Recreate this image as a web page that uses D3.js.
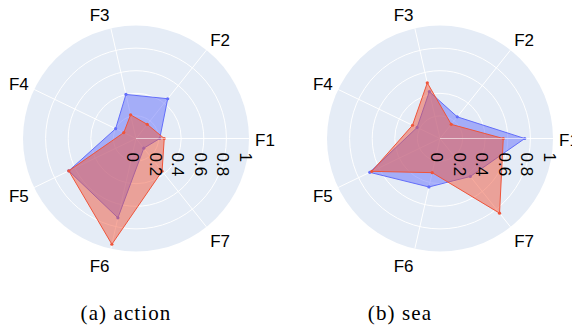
<!DOCTYPE html>
<html>
<head>
<meta charset="utf-8">
<script src="https://cdn.jsdelivr.net/npm/d3@7"></script>
<style>
  html, body { margin: 0; padding: 0; background: #ffffff; }
  svg { display: block; }
</style>
</head>
<body>
<svg id="chart" width="572" height="326"></svg>
<script>
// Feature axes, radial ticks and per-panel series (blue first, red drawn on top)
const categories = ["F1", "F2", "F3", "F4", "F5", "F6", "F7"];
const radialTicks = [0, 0.2, 0.4, 0.6, 0.8, 1];
const radialTickLabels = ["0", "0.2", "0.4", "0.6", "0.8", "1"];

const actionBlue = [0.21, 0.45, 0.40, 0.20, 0.66, 0.72, 0.11];
const actionRed  = [0.25, 0.16, 0.215, 0.12, 0.66, 0.96, 0.37];
const seaBlue    = [0.75, 0.245, 0.425, 0.225, 0.69, 0.44, 0.43];
const seaRed     = [0.56, 0.16, 0.505, 0.27, 0.67, 0.31, 0.845];

const panelCaptions = ["(a) action", "(b) sea"];

const blueColor = "#636efa";
const redColor = "#EF553B";
const bgColor = "#E5ECF6";

const svg = d3.select("#chart");
const R = 113;
const rScale = d3.scaleLinear().domain([0, 1]).range([0, R]);
const step = 2 * Math.PI / categories.length;
// theta measured counter-clockwise from the +x direction
const theta = i => i * step;

const panels = [
  { cx: 136, cy: 138.5, series: [actionBlue, actionRed], caption: panelCaptions[0], capX: 126 },
  { cx: 440, cy: 138.5, series: [seaBlue, seaRed], caption: panelCaptions[1], capX: 400 }
];

const radialLine = d3.lineRadial()
  .angle((d, i) => Math.PI / 2 - theta(i))
  .radius(d => rScale(d))
  .curve(d3.curveLinearClosed);

panels.forEach(p => {
  const g = svg.append("g").attr("transform", `translate(${p.cx},${p.cy})`);

  // polar background
  g.append("circle").attr("r", R).attr("fill", bgColor);

  // radial grid circles
  g.selectAll("circle.grid")
    .data(radialTicks.filter(t => t > 0 && t < 1))
    .join("circle")
    .attr("class", "grid")
    .attr("r", d => rScale(d))
    .attr("fill", "none")
    .attr("stroke", "#ffffff")
    .attr("stroke-width", 1);

  // angular grid lines
  g.selectAll("line.spoke")
    .data(categories)
    .join("line")
    .attr("class", "spoke")
    .attr("x1", 0).attr("y1", 0)
    .attr("x2", (d, i) => R * Math.cos(theta(i)))
    .attr("y2", (d, i) => -R * Math.sin(theta(i)))
    .attr("stroke", "#ffffff")
    .attr("stroke-width", 1);

  // filled traces
  const colors = [blueColor, redColor];
  p.series.forEach((vals, k) => {
    g.append("path")
      .attr("d", radialLine(vals))
      .attr("fill", colors[k])
      .attr("fill-opacity", 0.5)
      .attr("stroke", colors[k])
      .attr("stroke-width", 1)
      .attr("stroke-linejoin", "round");
    g.selectAll(null)
      .data(vals)
      .join("circle")
      .attr("cx", (d, i) => rScale(d) * Math.cos(theta(i)))
      .attr("cy", (d, i) => -rScale(d) * Math.sin(theta(i)))
      .attr("r", 1.6)
      .attr("fill", colors[k]);
  });

  // radial axis line, above traces
  g.append("line")
    .attr("x1", 0).attr("y1", 0)
    .attr("x2", rScale(1)).attr("y2", 0)
    .attr("stroke", "#ffffff")
    .attr("stroke-opacity", 0.55)
    .attr("stroke-width", 1.2);

  // radial tick labels, rotated
  g.selectAll("g.rtick")
    .data(radialTicks)
    .join("g")
    .attr("class", "rtick")
    .attr("transform", d => `translate(${rScale(d) - 3},14) rotate(90)`)
    .append("text")
    .attr("dy", "0.35em")
    .attr("text-anchor", "start")
    .attr("font-family", "Liberation Sans, Arial, sans-serif")
    .attr("font-size", 17)
    .attr("fill", "#000")
    .text((d, i) => radialTickLabels[i]);

  // angular category labels: anchored just outside the rim
  const labelDist = R + 6;
  g.selectAll("text.cat")
    .data(categories)
    .join("text")
    .attr("class", "cat")
    .attr("dy", "0.35em")
    .attr("font-family", "Liberation Sans, Arial, sans-serif")
    .attr("font-size", 17)
    .attr("fill", "#000")
    .each(function (d, i) {
      const c = Math.cos(theta(i)), s = Math.sin(theta(i));
      const anchor = c > 0.01 ? "start" : (c < -0.01 ? "end" : "middle");
      d3.select(this)
        .attr("text-anchor", anchor)
        .attr("x", labelDist * c)
        .attr("y", -labelDist * s + 2 - 10 * s)
        .text(d);
    });

  // panel caption
  svg.append("text")
    .attr("x", p.capX)
    .attr("y", 320)
    .attr("text-anchor", "middle")
    .attr("font-family", "Liberation Serif, Times New Roman, serif")
    .attr("font-size", 21)
    .attr("letter-spacing", 1.1)
    .attr("fill", "#000")
    .text(p.caption);
});
</script>
</body>
</html>
